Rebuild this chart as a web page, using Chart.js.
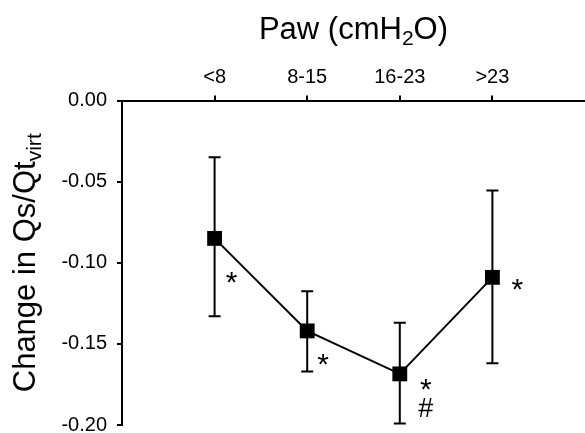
<!DOCTYPE html>
<html>
<head>
<meta charset="utf-8">
<script src="https://cdn.jsdelivr.net/npm/chart.js@4/dist/chart.umd.min.js"></script>
<style>
  html, body { margin: 0; padding: 0; background: #fff; }
  #wrap { width: 585px; height: 433px; }
</style>
</head>
<body>
<div id="wrap"><canvas id="c" width="585" height="433"></canvas></div>
<script>
// ---- data ----
const categories = ['<8', '8-15', '16-23', '>23'];
const meanValues = [-0.085, -0.142, -0.1685, -0.109];
const upperValues = [-0.035, -0.1175, -0.137, -0.0555];
const lowerValues = [-0.133, -0.167, -0.199, -0.162];
const significance = [['*'], ['*'], ['*', '#'], ['*']];
const titleParts = [['Paw (cmH', false], ['2', true], ['O)', false]];
const yLabelParts = [['Change in Qs/Qt', false], ['virt', true]];

const FONT = "'Liberation Sans', Arial, Helvetica, sans-serif";

function drawParts(ctx, parts, size, cx, baseline) {
  let total = 0;
  const subSize = size * 0.68;
  parts.forEach(([t, sub]) => {
    ctx.font = (sub ? subSize : size) + 'px ' + FONT;
    total += ctx.measureText(t).width;
  });
  let x = cx - total / 2;
  ctx.textAlign = 'left';
  ctx.textBaseline = 'alphabetic';
  parts.forEach(([t, sub]) => {
    ctx.font = (sub ? subSize : size) + 'px ' + FONT;
    ctx.fillText(t, x, baseline + (sub ? size * 0.2 : 0));
    x += ctx.measureText(t).width;
  });
}

const decorPlugin = {
  id: 'decor',
  beforeDatasetsDraw(chart) {
    const ctx = chart.ctx;
    const xs = chart.scales.x, ys = chart.scales.y;
    ctx.save();
    ctx.strokeStyle = '#000';
    ctx.lineWidth = 2;
    const cap = 6;
    for (let i = 0; i < meanValues.length; i++) {
      const px = xs.getPixelForValue(i + 1);
      const yt = ys.getPixelForValue(upperValues[i]);
      const yb = ys.getPixelForValue(lowerValues[i]);
      ctx.beginPath();
      ctx.moveTo(px, yt); ctx.lineTo(px, yb);
      ctx.moveTo(px - cap, yt); ctx.lineTo(px + cap, yt);
      ctx.moveTo(px - cap, yb); ctx.lineTo(px + cap, yb);
      ctx.stroke();
    }
    ctx.restore();
  },
  afterDraw(chart, args, opts) {
    const ctx = chart.ctx;
    const xs = chart.scales.x, ys = chart.scales.y;
    const ca = chart.chartArea;
    ctx.save();
    ctx.fillStyle = '#000';
    // title
    drawParts(ctx, titleParts, 31, (ca.left + ca.right) / 2, 39);
    // y label
    ctx.save();
    ctx.translate(35, (ca.top + ca.bottom) / 2);
    ctx.rotate(-Math.PI / 2);
    drawParts(ctx, yLabelParts, 31, 0, 0);
    ctx.restore();
    // significance marks
    ctx.textAlign = 'center';
    ctx.textBaseline = 'alphabetic';
    const offs = opts.offsets;
    for (let i = 0; i < meanValues.length; i++) {
      const px = xs.getPixelForValue(i + 1);
      const py = ys.getPixelForValue(meanValues[i]);
      const o = offs[i];
      significance[i].forEach((s, k) => {
        const cy = py + o[1] + k * 26;
        if (s === '*') {
          ctx.font = '30px ' + FONT;
          ctx.fillText(s, px + o[0], cy + 17);
        } else {
          ctx.font = '27px ' + FONT;
          ctx.fillText(s, px + o[0], cy + 9.5);
        }
      });
    }
    ctx.restore();
  }
};

const noPad = (s) => { s.paddingTop = 0; s.paddingBottom = 0; s.paddingLeft = 0; s.paddingRight = 0; };

new Chart(document.getElementById('c'), {
  type: 'line',
  data: {
    datasets: [{
      data: meanValues.map((v, i) => ({ x: i + 1, y: v })),
      borderColor: '#000',
      borderWidth: 2,
      backgroundColor: '#000',
      pointStyle: 'rect',
      pointRadius: 10.5,
      pointBorderWidth: 0,
      pointBackgroundColor: '#000',
      tension: 0,
      clip: false
    }]
  },
  options: {
    responsive: false,
    animation: false,
    events: [],
    layout: { autoPadding: false, padding: { top: 0, right: 0, bottom: 8, left: 0 } },
    plugins: {
      legend: { display: false },
      tooltip: { enabled: false },
      decor: { offsets: [[17, 37], [16, 26], [26, 8], [25, 5]] }
    },
    scales: {
      x: {
        type: 'linear',
        position: 'top',
        min: 0,
        max: 5,
        afterBuildTicks: (s) => { s.ticks = categories.map((c, i) => ({ value: i + 1 })); },
        afterFit: (s) => { s.height = 100.5; noPad(s); },
        ticks: {
          callback: (v) => categories[v - 1],
          color: '#000',
          font: { family: FONT, size: 20 },
          padding: 6,
          maxRotation: 0,
          autoSkip: false
        },
        grid: { display: true, drawOnChartArea: false, drawTicks: true, tickLength: 5, color: '#000', lineWidth: 2 },
        border: { display: true, color: '#000', width: 2 }
      },
      y: {
        type: 'linear',
        min: -0.2,
        max: 0,
        afterFit: (s) => { s.width = 122; noPad(s); },
        ticks: {
          stepSize: 0.05,
          callback: (v) => Number(v).toFixed(2),
          color: '#000',
          font: { family: FONT, size: 20 },
          padding: 10
        },
        grid: { display: true, drawOnChartArea: false, drawTicks: true, tickLength: 5, color: '#000', lineWidth: 2 },
        border: { display: true, color: '#000', width: 2 }
      }
    }
  },
  plugins: [decorPlugin]
});
</script>
</body>
</html>
